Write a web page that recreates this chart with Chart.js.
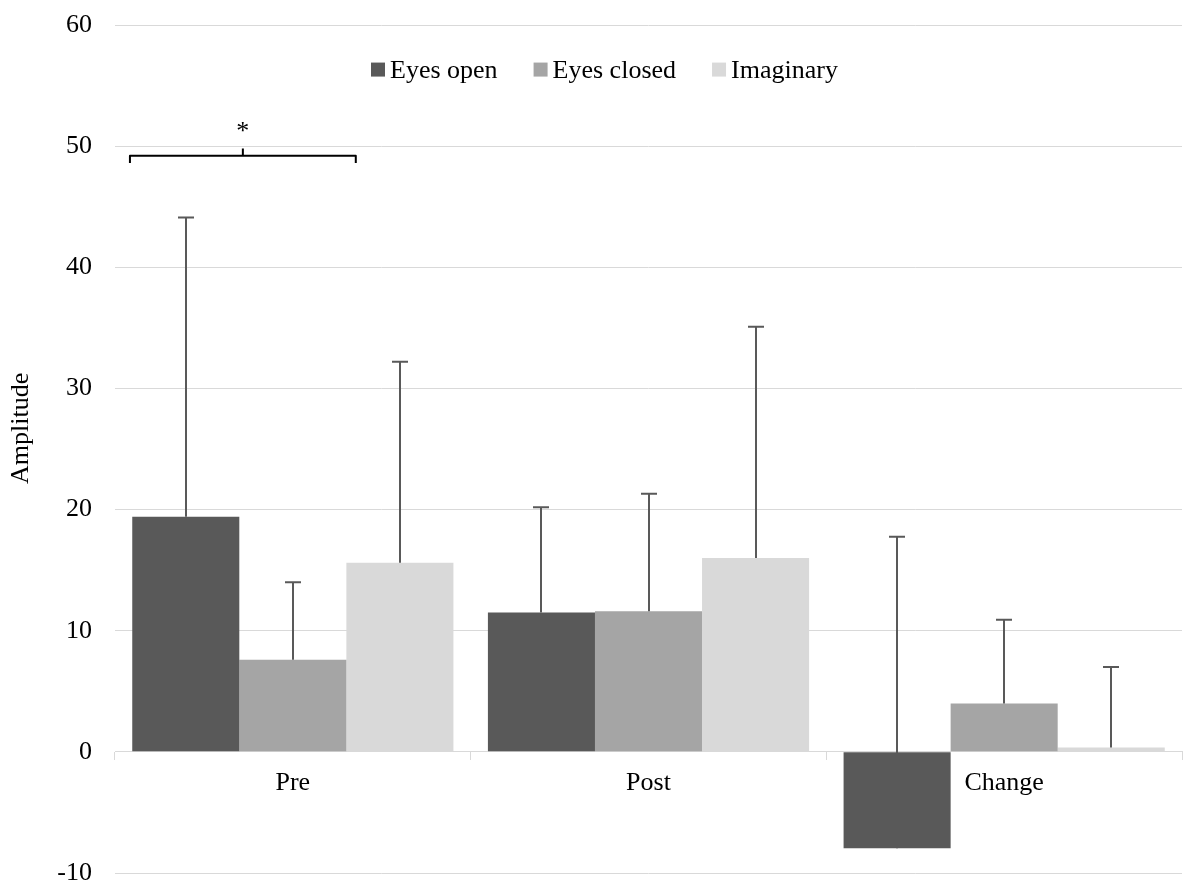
<!DOCTYPE html>
<html>
<head>
<meta charset="utf-8">
<script src="https://cdn.jsdelivr.net/npm/chart.js@4.4.0/dist/chart.umd.min.js"></script>
<style>
  html, body { margin: 0; padding: 0; background: #ffffff; }
  #wrap { width: 1183px; height: 885px; }
</style>
</head>
<body>
<div id="wrap"><canvas id="c" width="1183" height="885"></canvas></div>
<script>
// Mean amplitude per condition and phase
const categories = ['Pre', 'Post', 'Change'];
const seriesNames = ['Eyes open', 'Eyes closed', 'Imaginary'];
const eyesOpen = [19.4, 11.5, -7.95];
const eyesClosed = [7.6, 11.6, 4.0];
const imaginary = [15.6, 16.0, 0.35];

// Positive error (SD) for each bar
const eyesOpenErr = [24.7, 8.7, 25.7];
const eyesClosedErr = [6.4, 9.7, 6.9];
const imaginaryErr = [16.6, 19.1, 6.65];

// Value axis
const yMin = -10;
const yMax = 60;
const yStep = 10;
const yTitle = 'Amplitude';

// Significance marker over the Pre group
const sigLabel = '*';

const seriesColors = ['#595959', '#a5a5a5', '#d9d9d9'];
const FONT = 'Liberation Serif, "Times New Roman", serif';
const FONT_SIZE = 26;

const errorBars = {
  id: 'errorBars',
  afterDatasetsDraw(chart) {
    const ctx = chart.ctx;
    const ys = chart.scales.y;
    ctx.save();
    ctx.strokeStyle = '#595959';
    ctx.lineWidth = 2;
    chart.data.datasets.forEach((ds, di) => {
      const meta = chart.getDatasetMeta(di);
      meta.data.forEach((bar, i) => {
        const v = ds.data[i];
        const top = ys.getPixelForValue(v + ds.errors[i]);
        const base = ys.getPixelForValue(v);
        const x = Math.round(bar.x);
        ctx.beginPath();
        ctx.moveTo(x, base);
        ctx.lineTo(x, top);
        ctx.moveTo(x - 8, top);
        ctx.lineTo(x + 8, top);
        ctx.stroke();
      });
    });
    ctx.restore();
  }
};

const decorations = {
  id: 'decorations',
  afterDraw(chart) {
    const ctx = chart.ctx;
    const area = chart.chartArea;
    const ys = chart.scales.y;
    const xs = chart.scales.x;
    ctx.save();

    // rotated value-axis title
    ctx.font = FONT_SIZE + 'px ' + FONT;
    ctx.fillStyle = '#000000';
    ctx.textAlign = 'center';
    ctx.textBaseline = 'middle';
    ctx.translate(21, ys.getPixelForValue(26.7));
    ctx.rotate(-Math.PI / 2);
    ctx.fillText(yTitle, 0, 0);
    ctx.setTransform(1, 0, 0, 1, 0, 0);

    // legend inside the plot, along the top
    ctx.textAlign = 'left';
    ctx.textBaseline = 'alphabetic';
    let lx = area.left + 256;
    const baseY = ys.getPixelForValue(55.66);
    chart.data.datasets.forEach((ds) => {
      ctx.fillStyle = ds.backgroundColor;
      ctx.fillRect(lx, baseY - 15, 14, 14);
      ctx.fillStyle = '#000000';
      ctx.fillText(ds.label, lx + 19, baseY);
      lx += 19 + ctx.measureText(ds.label).width + 36;
    });

    // bracket with significance star over the Pre group
    const catW = (xs.getPixelForValue(1) - xs.getPixelForValue(0));
    const cx = xs.getPixelForValue(0);
    const x1 = cx - 0.458 * catW;
    const x2 = cx + 0.177 * catW;
    const xm = (x1 + x2) / 2;
    const yb = ys.getPixelForValue(49.2);
    const yLeg = ys.getPixelForValue(48.6);
    const yTip = ys.getPixelForValue(49.8);
    ctx.strokeStyle = '#000000';
    ctx.lineWidth = 2;
    ctx.lineJoin = 'round';
    ctx.beginPath();
    ctx.moveTo(x1, yLeg);
    ctx.lineTo(x1, yb);
    ctx.lineTo(x2, yb);
    ctx.lineTo(x2, yLeg);
    ctx.moveTo(xm, yb);
    ctx.lineTo(xm, yTip);
    ctx.stroke();
    ctx.textAlign = 'center';
    ctx.fillText(sigLabel, xm, ys.getPixelForValue(50.6));

    ctx.restore();
  }
};

new Chart(document.getElementById('c'), {
  type: 'bar',
  data: {
    labels: categories,
    datasets: [
      { label: seriesNames[0], data: eyesOpen, errors: eyesOpenErr, backgroundColor: seriesColors[0] },
      { label: seriesNames[1], data: eyesClosed, errors: eyesClosedErr, backgroundColor: seriesColors[1] },
      { label: seriesNames[2], data: imaginary, errors: imaginaryErr, backgroundColor: seriesColors[2] }
    ]
  },
  options: {
    responsive: false,
    animation: false,
    devicePixelRatio: 1,
    layout: { padding: { left: 0, right: 1, top: 25, bottom: 12 } },
    datasets: { bar: { categoryPercentage: 0.903, barPercentage: 1.0, borderWidth: 0 } },
    plugins: { legend: { display: false }, tooltip: { enabled: false } },
    scales: {
      x: {
        type: 'category',
        position: { y: 0 },
        offset: true,
        grid: { offset: true, drawOnChartArea: false, drawTicks: true, tickLength: 8, color: '#d9d9d9', lineWidth: 1 },
        border: { display: true, color: '#d9d9d9', width: 1 },
        ticks: { font: { family: FONT, size: FONT_SIZE }, color: '#000000', padding: 8, maxRotation: 0 },
        afterFit(scale) {
          scale.height = 0;
          scale.paddingLeft = 0; scale.paddingRight = 0;
          scale.paddingTop = 0; scale.paddingBottom = 0;
        }
      },
      y: {
        min: yMin,
        max: yMax,
        ticks: { stepSize: yStep, padding: 23, font: { family: FONT, size: FONT_SIZE }, color: '#000000' },
        grid: { color: '#d9d9d9', lineWidth: 1, drawTicks: false },
        border: { display: false },
        afterFit(scale) {
          scale.width = 115;
          scale.paddingTop = 0; scale.paddingBottom = 0;
          scale.paddingLeft = 0; scale.paddingRight = 0;
        }
      }
    }
  },
  plugins: [errorBars, decorations]
});
</script>
</body>
</html>
